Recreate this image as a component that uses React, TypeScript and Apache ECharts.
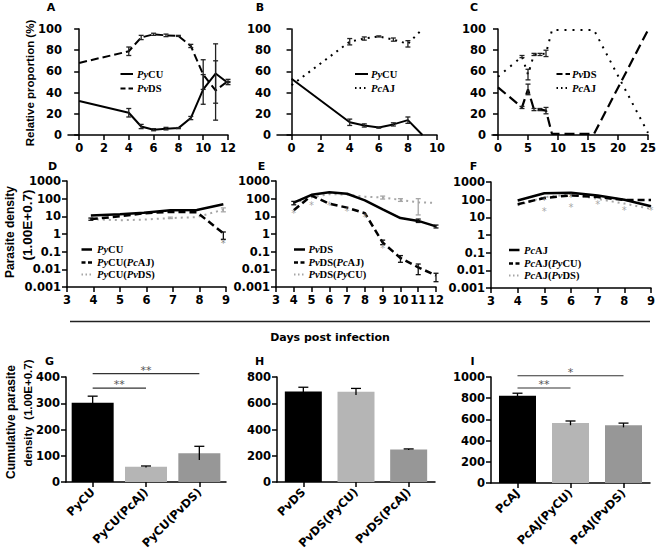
import React, { useEffect, useRef } from "react";
import * as echarts from "echarts";

// ---------- Panel A : relative proportion, PyCU vs PvDS ----------
const daysA = [0, 4, 5, 6, 7, 8, 9, 10, 11, 12];
const aPyCU = [32, 21, 8, 5, 6, 6.5, 16, 43, 58, 49];
const aPvDS = [68, 79, 92, 95, 94, 93.5, 84, 57, 42, 51];
const aErr = [0, 4, 2, 1, 1.2, 0.5, 1.5, 14, 28, 1.5];
// ---------- Panel B : PyCU vs PcAJ ----------
const daysB = [0, 4, 5, 6, 7, 8, 9];
const bPyCU = [53, 12, 9, 7, 10, 14, 0];
const bPcAJ = [47, 88, 91, 93, 90, 86, 100];
const bErr = [0, 3, 1.5, 0.5, 1.5, 3, 0];
// ---------- Panel C : PvDS vs PcAJ ----------
const daysC = [0, 4, 5, 6, 7, 8, 9, 16, 25];
const cPvDS = [45, 26, 43, 24, 24, 23, 1, 1, 99];
const cPcAJ = [55, 74, 57, 76, 76, 77, 99, 99, 2];
const cErr = [0, 1, 5, 1, 1, 3, 0, 0, 0];
// ---------- Panel D : PyCU density ----------
const daysD = [3.9, 5, 5.9, 6.9, 7.9, 8.9];
const dPyCU = [11, 13, 16, 22, 23, 48];
const dPyCUPcAJ = [7, 10, 15, 18, 17, 1.1];
const dPyCUPvDS = [7, 6, 6.5, 8, 9, 24];
const dErrPcAJ = [[3.9, 6, 8], [8.9, 0.5, 1.3]];
const dErrPvDS = [[6.9, 7.5, 9], [8.9, 18, 30]];
const dStars = [[8.9, 0.3]];
// ---------- Panel E : PvDS density ----------
const daysE = [4, 5, 6, 7, 8, 9, 10, 11, 12];
const ePvDS = [60, 165, 230, 190, 80, 25, 8, 5.5, 2.7];
const ePvDSPcAJ = [22, 150, 52, 31, 15, 0.33, 0.044, 0.013, 0.0045];
const ePvDSPyCU = [55, 120, 180, 170, 130, 115, 85, 62, 58];
const eErrPvDS = [[4, 45, 70], [11, 4.5, 7], [12, 2.2, 3.2]];
const eErrPcAJ = [[9, 0.25, 0.45], [10, 0.025, 0.06], [11, 0.005, 0.02], [12, 0.002, 0.006]];
const eErrPyCU = [[9, 95, 140], [10, 70, 100], [11, 12, 100]];
const eStars = [[4, 14], [5, 42], [6, 40], [7, 19], [8, 8.5], [9, 0.16]];
// ---------- Panel F : PcAJ density ----------
const daysF = [4, 5, 6, 7, 8, 9];
const fPcAJ = [90, 230, 250, 170, 100, 42];
const fPcAJPyCU = [55, 125, 175, 140, 95, 95];
const fPcAJPvDS = [48, 140, 200, 110, 60, 30];
const fStarsDark = [[5, 85], [6, 140]];
const fStarsGray = [[5, 22], [6, 36], [7, 50], [8, 24], [9, 26]];
// ---------- Panels G, H, I : cumulative density ----------
const catsG = ["PyCU", "PyCU(PcAJ)", "PyCU(PvDS)"];
const valsG = [302, 58, 110];
const errG = [25, 3, 26];
const catsH = ["PvDS", "PvDS(PyCU)", "PvDS(PcAJ)"];
const valsH = [690, 688, 248];
const errH = [32, 25, 4];
const catsI = ["PcAJ", "PcAJ(PyCU)", "PcAJ(PvDS)"];
const valsI = [822, 565, 545];
const errI = [25, 20, 20];
const bracketsG = [[0, 2, 413], [0, 1, 358]];
const bracketLabelsG = ["**", "**"];
const bracketsI = [[0, 2, 1012], [0, 1, 896]];
const bracketLabelsI = ["*", "**"];
const ticksA = [0, 2, 4, 6, 8, 10, 12];
const ticksB = [0, 2, 4, 6, 8, 10];
const ticksC = [0, 5, 10, 15, 20, 25];

const FONT = "DejaVu Sans";
const SANS = "Liberation Sans";
const SERIF = "Liberation Serif";
const GRAY = "#a6a6a6";
const STAR_GRAY = "#8f8f8f";
const BAR_COLORS = ["#000000", "#b5b5b5", "#979797"];

const tickLabel = { fontFamily: FONT, fontWeight: "bold", fontSize: 11.5, color: "#000" };
const axisLine = { show: true, lineStyle: { color: "#000", width: 1.5 } };
const axisTick = { show: true, length: 5, lineStyle: { color: "#000", width: 1.5 } };

const grids = [
  { left: 68, top: 29, width: 160, height: 106 },
  { left: 277, top: 29, width: 160, height: 106 },
  { left: 492, top: 29, width: 157, height: 106 },
  { left: 67, top: 181, width: 159, height: 106 },
  { left: 276, top: 181, width: 160, height: 106 },
  { left: 491, top: 182, width: 160, height: 106 },
  { left: 66, top: 377, width: 160, height: 105 },
  { left: 277, top: 377, width: 158, height: 105 },
  { left: 491, top: 377, width: 159, height: 106 },
];

const valX = (i: number, min: number, max: number, ticks?: number[]) => ({
  type: "value",
  gridIndex: i,
  min,
  max,
  ...(ticks ? {} : { interval: 1 }),
  axisLine,
  axisTick: ticks ? { ...axisTick, customValues: ticks } : axisTick,
  axisLabel: ticks ? { ...tickLabel, margin: 7, customValues: ticks } : { ...tickLabel, margin: 7 },
  splitLine: { show: false },
});
const catX = (i: number, cats: string[]) => ({
  type: "category",
  gridIndex: i,
  data: cats,
  axisLine,
  axisTick: { ...axisTick, alignWithLabel: true, interval: 0 },
  axisLabel: { ...tickLabel, rotate: 45, interval: 0, margin: 8 },
});
const linY = (i: number, max: number, interval: number) => ({
  type: "value",
  gridIndex: i,
  min: 0,
  max,
  interval,
  axisLine,
  axisTick,
  axisLabel: { ...tickLabel, margin: 6, formatter: (v: number) => String(v) },
  splitLine: { show: false },
});
const logY = (i: number) => ({
  type: "log",
  gridIndex: i,
  logBase: 10,
  min: 0.001,
  max: 1000,
  splitNumber: 6,
  axisLine,
  axisTick,
  minorTick: { show: false },
  axisLabel: {
    ...tickLabel,
    margin: 6,
    formatter: (v: number) => String(parseFloat(Number(v).toPrecision(3))),
  },
  splitLine: { show: false },
});

const lineS = (ax: number, xs: number[], ys: number[], name: string, color: string, width: number, type: any) => ({
  type: "line",
  name,
  xAxisIndex: ax,
  yAxisIndex: ax,
  data: xs.map((x, i) => [x, ys[i]]),
  symbol: "none",
  lineStyle: { color, width, type },
  itemStyle: { color },
  z: 3,
});

const pm = (xs: number[], ys: number[], es: number[]) =>
  xs.map((x, i) => [x, ys[i] - es[i], ys[i] + es[i]]).filter((_, i) => es[i] > 0);

const errS = (ax: number, data: number[][], color: string, capHalf = 2.5, topOnly = false) => ({
  type: "custom",
  xAxisIndex: ax,
  yAxisIndex: ax,
  data,
  z: 4,
  itemStyle: { color },
  renderItem: (params: any, api: any) => {
    const x = api.value(0);
    const a = api.coord([x, api.value(1)]);
    const b = api.coord([x, api.value(2)]);
    const st = { stroke: color, lineWidth: 1.3, fill: null };
    const children: any[] = [
      { type: "line", shape: { x1: a[0], y1: a[1], x2: b[0], y2: b[1] }, style: st },
      { type: "line", shape: { x1: b[0] - capHalf, y1: b[1], x2: b[0] + capHalf, y2: b[1] }, style: st },
    ];
    if (!topOnly)
      children.push({ type: "line", shape: { x1: a[0] - capHalf, y1: a[1], x2: a[0] + capHalf, y2: a[1] }, style: st });
    return { type: "group", children };
  },
});

const starS = (ax: number, data: number[][], color: string) => ({
  type: "scatter",
  xAxisIndex: ax,
  yAxisIndex: ax,
  data,
  z: 5,
  symbolSize: 1,
  itemStyle: { color: "rgba(0,0,0,0)" },
  label: {
    show: true,
    position: "inside",
    formatter: "*",
    color,
    fontSize: 10,
    fontFamily: FONT,
  },
});

const bracketS = (ax: number, data: number[][]) => ({
  type: "custom",
  xAxisIndex: ax,
  yAxisIndex: ax,
  data,
  z: 5,
  clip: false,
  itemStyle: { color: "#333" },
  renderItem: (params: any, api: any) => {
    const a = api.coord([api.value(0), api.value(2)]);
    const b = api.coord([api.value(1), api.value(2)]);
    return {
      type: "line",
      shape: { x1: a[0], y1: a[1], x2: b[0], y2: b[1] },
      style: { stroke: "#333", lineWidth: 1.2 },
    };
  },
});

const barS = (ax: number, vals: number[], width: number) => ({
  type: "bar",
  xAxisIndex: ax,
  yAxisIndex: ax,
  barWidth: width,
  data: vals.map((v, i) => ({ value: v, itemStyle: { color: BAR_COLORS[i] } })),
  z: 2,
});

const barErr = (vals: number[], errs: number[]) => vals.map((v, i) => [i, v - errs[i], v + errs[i]]);

const richName = (name: string) =>
  name
    .split(/(Py|Pv|Pc)/)
    .filter(Boolean)
    .map((s) => (/^(Py|Pv|Pc)$/.test(s) ? `{i|${s}}` : `{n|${s}}`))
    .join("");

const legendRich = {
  i: { fontStyle: "italic", fontWeight: "bold", fontFamily: SERIF, fontSize: 10.5, fill: "#000" },
  n: { fontWeight: "bold", fontFamily: SERIF, fontSize: 10.5, fill: "#000" },
};

const legend = (x0: number, x1: number, tx: number, ys: number[], items: { name: string; color: string; dash: any; w: number }[]) =>
  items.flatMap((it, k) => [
    {
      type: "line",
      shape: { x1: x0, y1: ys[k], x2: x1, y2: ys[k] },
      style: { stroke: it.color, lineWidth: it.w, lineDash: it.dash },
    },
    {
      type: "text",
      x: tx,
      y: ys[k],
      style: { text: richName(it.name), rich: legendRich, verticalAlign: "middle", align: "left" },
    },
  ]);

const letter = (t: string, x: number, y: number) => ({
  type: "text",
  x,
  y,
  style: { text: t, fontFamily: FONT, fontWeight: "bold", fontSize: 11, fill: "#000", align: "center", verticalAlign: "middle" },
});

const vTitle = (t: string, x: number, y: number, size = 12) => ({
  type: "text",
  x,
  y,
  rotation: Math.PI / 2,
  style: { text: t, fontFamily: SANS, fontWeight: "bold", fontSize: size, fill: "#000", align: "center", verticalAlign: "middle" },
});

export default function App() {
  const ref = useRef<HTMLDivElement>(null);
  useEffect(() => {
    document.body.style.margin = "0";
    const chart = echarts.init(ref.current!, null, { renderer: "svg" });
    const SOLID = null;
    const DASH = [4, 2.5];
    const DOT = [1.5, 2.5];
    const graphics: any[] = [
      letter("A", 51, 7.5),
      letter("B", 260, 7.5),
      letter("C", 474, 7),
      letter("D", 52.5, 166),
      letter("E", 261.5, 166.5),
      letter("F", 473.5, 166.5),
      letter("G", 49.5, 361),
      letter("H", 259.5, 361),
      letter("I", 472.5, 361),
      vTitle("Relative proportion (%)", 30, 83, 11.5),
      vTitle("Parasite density", 10, 232, 12),
      vTitle("(1.00E+0.7)", 27, 225, 13.5),
      vTitle("Cumulative parasite", 11, 422, 12),
      vTitle("density  (1.00E+0.7)", 28, 413, 11.5),
      {
        type: "line",
        shape: { x1: 70, y1: 321.5, x2: 650, y2: 321.5 },
        style: { stroke: "#222", lineWidth: 1.3 },
      },
      {
        type: "text",
        x: 330,
        y: 337,
        style: {
          text: "Days post infection",
          fontFamily: FONT,
          fontWeight: "bold",
          fontSize: 11,
          fill: "#000",
          align: "center",
          verticalAlign: "middle",
        },
      },
      ...legend(120.5, 133, 137, [74, 88.5], [
        { name: "PyCU", color: "#000", dash: SOLID, w: 2 },
        { name: "PvDS", color: "#000", dash: [5, 3], w: 2 },
      ]),
      ...legend(355, 368, 371, [74, 88], [
        { name: "PyCU", color: "#000", dash: SOLID, w: 2 },
        { name: "PcAJ", color: "#000", dash: [1.5, 3], w: 2 },
      ]),
      ...legend(556.5, 570, 572, [74, 88], [
        { name: "PvDS", color: "#000", dash: [6, 3], w: 2.2 },
        { name: "PcAJ", color: "#000", dash: [1.5, 3], w: 2 },
      ]),
      ...legend(81.5, 92, 97, [249.5, 262.5, 274.5], [
        { name: "PyCU", color: "#000", dash: SOLID, w: 2.5 },
        { name: "PyCU(PcAJ)", color: "#000", dash: DASH, w: 2.5 },
        { name: "PyCU(PvDS)", color: GRAY, dash: DOT, w: 2 },
      ]),
      ...legend(294, 305, 308.5, [249.5, 262.5, 274.5], [
        { name: "PvDS", color: "#000", dash: SOLID, w: 2.5 },
        { name: "PvDS(PcAJ)", color: "#000", dash: DASH, w: 2.5 },
        { name: "PvDS(PyCU)", color: GRAY, dash: DOT, w: 2 },
      ]),
      ...legend(509, 519.5, 524, [250, 263.5, 275.5], [
        { name: "PcAJ", color: "#000", dash: SOLID, w: 2.5 },
        { name: "PcAJ(PyCU)", color: "#000", dash: DASH, w: 2.5 },
        { name: "PcAJ(PvDS)", color: GRAY, dash: DOT, w: 2 },
      ]),
    ];
    const option: any = {
      animation: false,
      backgroundColor: "#fff",
      grid: grids,
      xAxis: [
        valX(0, -0.9, 12, ticksA),
        valX(1, -1, 10, ticksB),
        valX(2, -1, 25, ticksC),
        valX(3, 3, 9),
        valX(4, 3, 12),
        valX(5, 3, 9),
        catX(6, catsG),
        catX(7, catsH),
        catX(8, catsI),
      ],
      yAxis: [
        linY(0, 100, 20),
        linY(1, 100, 20),
        linY(2, 100, 20),
        logY(3),
        logY(4),
        logY(5),
        linY(6, 400, 100),
        linY(7, 800, 200),
        linY(8, 1000, 200),
      ],
      series: [
        // A
        lineS(0, daysA, aPyCU, "PyCU", "#000", 2, "solid"),
        lineS(0, daysA, aPvDS, "PvDS", "#000", 2, [8, 4]),
        errS(0, pm(daysA, aPyCU, aErr), "#222"),
        errS(0, pm(daysA, aPvDS, aErr), "#222"),
        // B
        lineS(1, daysB, bPyCU, "PyCU", "#000", 2, "solid"),
        lineS(1, daysB, bPcAJ, "PcAJ", "#000", 2, [2, 5]),
        errS(1, pm(daysB, bPyCU, bErr), "#222"),
        errS(1, pm(daysB, bPcAJ, bErr), "#222"),
        // C
        lineS(2, daysC, cPvDS, "PvDS", "#000", 2.2, [10, 5]),
        lineS(2, daysC, cPcAJ, "PcAJ", "#000", 2, [2, 6]),
        errS(2, pm(daysC, cPvDS, cErr), "#222"),
        errS(2, pm(daysC, cPcAJ, cErr), "#222"),
        // D
        lineS(3, daysD, dPyCUPvDS, "PyCU(PvDS)", GRAY, 2, [2, 4]),
        lineS(3, daysD, dPyCU, "PyCU", "#000", 2.5, "solid"),
        lineS(3, daysD, dPyCUPcAJ, "PyCU(PcAJ)", "#000", 2.5, [7, 4]),
        errS(3, dErrPcAJ, "#111"),
        errS(3, dErrPvDS, GRAY),
        starS(3, dStars, "#666"),
        // E
        lineS(4, daysE, ePvDSPyCU, "PvDS(PyCU)", GRAY, 2, [2, 4]),
        lineS(4, daysE, ePvDS, "PvDS", "#000", 2.5, "solid"),
        lineS(4, daysE, ePvDSPcAJ, "PvDS(PcAJ)", "#000", 2.5, [7, 4]),
        errS(4, eErrPvDS, "#111"),
        errS(4, eErrPcAJ, "#111"),
        errS(4, eErrPyCU, GRAY),
        starS(4, eStars, STAR_GRAY),
        // F
        lineS(5, daysF, fPcAJPvDS, "PcAJ(PvDS)", GRAY, 2, [2, 4]),
        lineS(5, daysF, fPcAJ, "PcAJ", "#000", 2.5, "solid"),
        lineS(5, daysF, fPcAJPyCU, "PcAJ(PyCU)", "#000", 2.5, [7, 4]),
        starS(5, fStarsDark, "#555"),
        starS(5, fStarsGray, STAR_GRAY),
        // G
        barS(6, valsG, 42),
        errS(6, barErr(valsG, errG), "#000", 5, true),
        bracketS(6, bracketsG),
        // H
        barS(7, valsH, 37),
        errS(7, barErr(valsH, errH), "#000", 5, true),
        // I
        barS(8, valsI, 37),
        errS(8, barErr(valsI, errI), "#000", 5, true),
        bracketS(8, bracketsI),
      ],
      graphic: graphics,
    };
    chart.setOption(option);
    // significance labels placed through the axes' own scales
    const bracketText = (grid: number, rows: number[][], labels: string[]) =>
      rows.map((r, k) => {
        const a = chart.convertToPixel({ xAxisIndex: grid, yAxisIndex: grid }, [r[0], r[2]]) as number[];
        const b = chart.convertToPixel({ xAxisIndex: grid, yAxisIndex: grid }, [r[1], r[2]]) as number[];
        return {
          type: "text",
          x: (a[0] + b[0]) / 2,
          y: a[1] + 2,
          style: {
            text: labels[k],
            fill: "#555",
            fontSize: 11,
            fontFamily: FONT,
            align: "center",
            verticalAlign: "bottom",
          },
        };
      });
    chart.setOption({
      graphic: [...graphics, ...bracketText(6, bracketsG, bracketLabelsG), ...bracketText(8, bracketsI, bracketLabelsI)],
    });
    return () => chart.dispose();
  }, []);
  return (
    <div
      ref={ref}
      style={{ position: "fixed", left: 0, top: 0, width: 659, height: 557, background: "#fff" }}
    />
  );
}
